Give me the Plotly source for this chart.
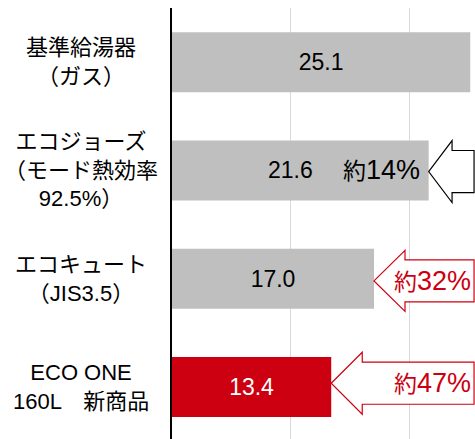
import plotly.graph_objects as go

# ---- data ----
categories = ["基準給湯器<br>（ガス）",
              "エコジョーズ<br>（モード熱効率<br>92.5%）",
              "エコキュート<br>（JIS3.5）",
              "ECO ONE<br>160L　新商品"]
values = [25.1, 21.6, 17.0, 13.4]
bar_colors = ["#bfbfbf", "#bfbfbf", "#bfbfbf", "#cc0011"]
value_text_colors = ["#000000", "#000000", "#000000", "#ffffff"]
reduction_labels = ["", "14%", "32%", "47%"]

FONT = "Liberation Sans, Arial, Noto Sans CJK JP, sans-serif"
RED = "#cc0011"
XMAX = 25.5
ARROW_RIGHT = 25.42

fig = go.Figure()

# bars (value text inside for all but the 2nd, which shares space with its note)
bar_text = [f"{v:.1f}" if i != 1 else "" for i, v in enumerate(values)]
fig.add_trace(go.Bar(
    x=values, y=categories, orientation="h",
    marker=dict(color=bar_colors, line=dict(width=0)),
    text=bar_text, textposition="inside", insidetextanchor="middle",
    textfont=dict(family=FONT, size=23, color=value_text_colors),
    hoverinfo="skip", cliponaxis=False,
))

annotations = []
shapes = []

# category labels
for cat in categories:
    annotations.append(dict(
        x=-0.30, xref="paper", y=cat, yref="y",
        text=cat, showarrow=False, xanchor="center", yanchor="middle",
        align="center", font=dict(family=FONT, size=22, color="#000000"),
    ))

# 2nd bar value + its note inside the bar
annotations.append(dict(
    x=values[1], y=categories[1], xref="x", yref="y",
    text=f"{values[1]:.1f}", showarrow=False, xanchor="right", yanchor="middle",
    xshift=-114, font=dict(family=FONT, size=23, color="#000000"),
))
annotations.append(dict(
    x=values[1], y=categories[1], xref="x", yref="y",
    text=f"約<span style='font-size:27px'>{reduction_labels[1]}</span>",
    showarrow=False, xanchor="right", yanchor="middle", xshift=-7,
    font=dict(family=FONT, size=23, color="#000000"),
))

# arrows pointing at bar ends
arrow_specs = [
    # (index, head length, head half-height, shaft half-height, outline color, y offset)
    (1, 1.97, 0.286, 0.194, "#000000", 0.01),
    (2, 2.61, 0.282, 0.194, RED, 0.02),
    (3, 2.61, 0.286, 0.194, RED, -0.035),
]
for idx, hl, hh, sh, col, dy in arrow_specs:
    tip = values[idx]
    yc = idx + dy
    base = tip + hl
    path = (f"M {tip},{yc} L {base},{yc - hh} L {base},{yc - sh} "
            f"L {ARROW_RIGHT},{yc - sh} L {ARROW_RIGHT},{yc + sh} "
            f"L {base},{yc + sh} L {base},{yc + hh} Z")
    shapes.append(dict(type="path", path=path, xref="x", yref="y",
                       fillcolor="#ffffff", line=dict(color=col, width=1.2),
                       layer="above"))
    if idx >= 2:
        annotations.append(dict(
            x=ARROW_RIGHT, y=yc, xref="x", yref="y",
            text=f"約<span style='font-size:27px'>{reduction_labels[idx]}</span>",
            showarrow=False, xanchor="right", yanchor="middle", xshift=-1,
            font=dict(family=FONT, size=23, color=RED),
        ))

fig.update_layout(
    width=475, height=439,
    margin=dict(l=172, r=0, t=8, b=0),
    paper_bgcolor="#ffffff", plot_bgcolor="#ffffff",
    showlegend=False, bargap=0.446,
    font=dict(family=FONT),
    annotations=annotations, shapes=shapes,
    xaxis=dict(range=[0, XMAX], showticklabels=False, ticks="",
               showgrid=True, gridcolor="#d9d9d9", gridwidth=1.3,
               dtick=10, tick0=0, zeroline=False, showline=False),
    yaxis=dict(categoryorder="array", categoryarray=categories,
               range=[3.48, -0.5], showticklabels=False, ticks="",
               showgrid=False, zeroline=False,
               showline=True, linecolor="#000000", linewidth=2),
)

fig.write_html("out.html", config={"displayModeBar": False},
               post_script="document.body.style.margin='0';document.body.style.padding='0';")
